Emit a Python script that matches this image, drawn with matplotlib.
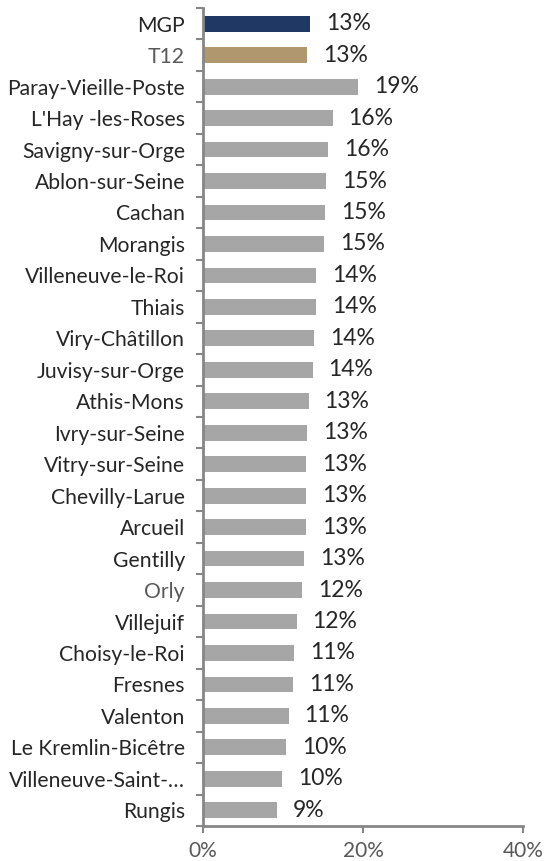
import matplotlib
matplotlib.use("Agg")
import matplotlib.pyplot as plt
import numpy as np

categories = ["MGP", "T12", "Paray-Vieille-Poste", "L'Hay -les-Roses", "Savigny-sur-Orge",
              "Ablon-sur-Seine", "Cachan", "Morangis", "Villeneuve-le-Roi", "Thiais",
              "Viry-Châtillon", "Juvisy-sur-Orge", "Athis-Mons", "Ivry-sur-Seine",
              "Vitry-sur-Seine", "Chevilly-Larue", "Arcueil", "Gentilly", "Orly",
              "Villejuif", "Choisy-le-Roi", "Fresnes", "Valenton", "Le Kremlin-Bicêtre",
              "Villeneuve-Saint-…", "Rungis"]
values = [13.4, 13.0, 19.4, 16.2, 15.6, 15.4, 15.3, 15.1, 14.1, 14.1, 13.9, 13.7, 13.2,
          13.0, 12.9, 12.9, 12.9, 12.6, 12.4, 11.7, 11.4, 11.3, 10.7, 10.4, 9.9, 9.2]
xticks = [0, 20, 40]

colors = ["#1F3864", "#B0976D"] + ["#A6A6A6"] * (len(categories) - 2)

plt.rcParams['font.family'] = ['Lato', 'DejaVu Sans']

fig = plt.figure(figsize=(5.47, 8.61), dpi=100)
ax = fig.add_axes([203/547, 1 - 826/861, 320/547, 818/861])

y = np.arange(len(categories))
ax.barh(y, values, height=0.5, color=colors)
ax.set_ylim(len(categories) - 0.5, -0.5)
ax.set_xlim(0, 40)

for yi, v in zip(y, values):
    ax.text(v + 2.0, yi, f"{round(v):.0f}%", va='center', ha='left',
            fontsize=16.5, color='#262626')

ax.set_yticks(y)
ax.set_yticklabels(categories, fontsize=15.2)
for lbl, c in zip(ax.get_yticklabels(), categories):
    lbl.set_color('#595959' if c in ("T12", "Orly") else '#262626')
ax.tick_params(axis='y', which='major', length=0, pad=13)
ax.set_yticks(np.arange(-0.5, len(categories), 1), minor=True)
ax.tick_params(axis='y', which='minor', length=5, width=1.5, color='#868686', direction='out')

ax.set_xticks(xticks)
ax.set_xticklabels([f"{t}%" for t in xticks], fontsize=15, color='#595959')
ax.tick_params(axis='x', length=5, width=1.5, color='#868686', pad=6)

for s in ['top', 'right']:
    ax.spines[s].set_visible(False)
for s in ['left', 'bottom']:
    ax.spines[s].set_color('#868686')
    ax.spines[s].set_linewidth(2)

fig.savefig("out.png", dpi=100)
